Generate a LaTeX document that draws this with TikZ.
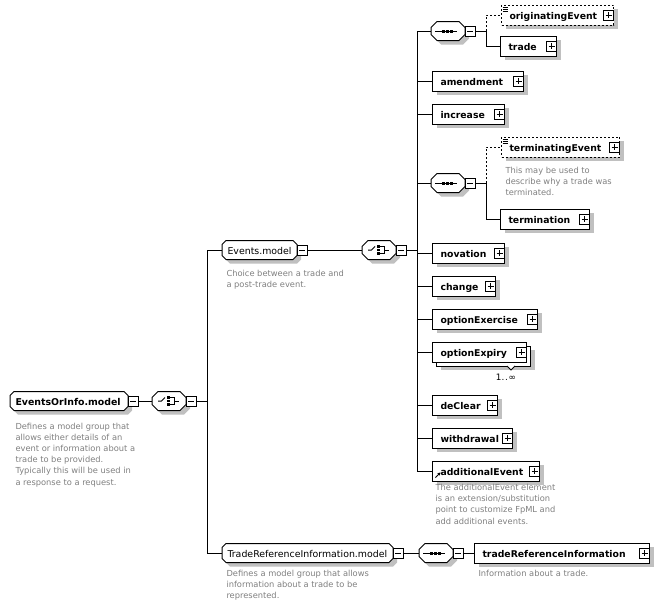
\documentclass[tikz,border=0pt]{standalone}
\usepackage{fontspec}
\setmainfont{DejaVu Sans}
\usetikzlibrary{shadows,arrows.meta}
\definecolor{shadowgray}{RGB}{192,192,192}
\definecolor{descgray}{RGB}{128,128,128}
\tikzset{
  elembase/.style={draw,fill=white,anchor=west,inner xsep=8pt,inner ysep=0pt,
    minimum height=20pt,text height=8pt,text depth=0pt,align=left,
    font=\fontsize{9.3}{11}\selectfont\bfseries},
  elemshadow/.style={drop shadow={shadow xshift=4pt,shadow yshift=-4pt,fill=shadowgray,opacity=1}},
  elem/.style={elembase,elemshadow},
  optelem/.style={elem,dash pattern=on 2pt off 2pt},
  pm/.style={draw,fill=white,inner sep=0pt,minimum size=10pt,solid},
  minusbox/.style={pm,path picture={\draw ([xshift=2pt]path picture bounding box.west) -- ([xshift=-2pt]path picture bounding box.east);}},
  plusbox/.style={pm,path picture={\draw ([xshift=2pt]path picture bounding box.west) -- ([xshift=-2pt]path picture bounding box.east); \draw ([yshift=-2pt]path picture bounding box.north) -- ([yshift=2pt]path picture bounding box.south);}},
  hold/.style={anchor=west,inner sep=0pt,outer sep=0pt,minimum height=19pt},
  glabel/.style={anchor=west,inner sep=0pt,text height=8pt,text depth=0pt,font=\fontsize{9.4}{11}\selectfont},
  desc/.style={anchor=base west,inner sep=0pt,align=left,text=descgray,font=\fontsize{8.3}{11.2}\selectfont},
  optconn/.style={dash pattern=on 2pt off 2pt},
}
% octagon around a holder node: node, cut, dx, dy(down), path options
\newcommand\drawoct[5]{%
  \path[#5] ([xshift={#2+#3},yshift={-#4}]#1.north west) -- ([xshift={#3-#2},yshift={-#4}]#1.north east)
   -- ([xshift={#3},yshift={-#2-#4}]#1.north east) -- ([xshift={#3},yshift={#2-#4}]#1.south east)
   -- ([xshift={#3-#2},yshift={-#4}]#1.south east) -- ([xshift={#2+#3},yshift={-#4}]#1.south west)
   -- ([xshift={#3},yshift={#2-#4}]#1.south west) -- ([xshift={#3},yshift={-#2-#4}]#1.north west) -- cycle;}
% model group: name, left, width, cy, label options, text
\newcommand\xgrp[6]{%
  \node[hold,minimum width=#3pt] (#1) at (#2,#4) {};
  \drawoct{#1}{4pt}{4pt}{4pt}{fill=shadowgray}
  \drawoct{#1}{4pt}{0pt}{0pt}{draw,fill=white}
  \node[glabel,#5] (#1-t) at ([xshift=5pt]#1.west) {#6};
  \node[minusbox] (#1-m) at ([xshift=5pt]#1.east) {};}
% compositor: name, left, cy
\newcommand\xcomp[3]{%
  \node[hold,minimum width=34pt] (#1) at (#2,#3) {};
  \drawoct{#1}{6pt}{4pt}{4pt}{fill=shadowgray}
  \drawoct{#1}{6pt}{0pt}{0pt}{draw,fill=white}
  \node[minusbox] (#1-m) at ([xshift=5pt]#1.east) {};}
\newcommand\seqicon[1]{%
  \draw ([xshift=4pt]#1.west) -- ([xshift=26pt]#1.west);
  \foreach \dx in {11,15,19} \fill ([xshift=\dx pt,yshift=-1.5pt]#1.west) rectangle ([xshift={\dx pt+3pt},yshift=1.5pt]#1.west);}
\newcommand\choiceicon[1]{%
  \draw ([xshift=6pt]#1.west) -- ([xshift=9.5pt]#1.west) -- ([xshift=13pt,yshift=3.5pt]#1.west);
  \foreach \dy in {-3.5,0,3.5} \fill ([xshift=15pt,yshift={\dy pt-1.25pt}]#1.west) rectangle ([xshift=17.5pt,yshift={\dy pt+1.25pt}]#1.west);
  \draw ([xshift=18pt,yshift=3.5pt]#1.west) -- ([xshift=22.5pt,yshift=3.5pt]#1.west) -- ([xshift=22.5pt,yshift=-3.5pt]#1.west) -- ([xshift=18pt,yshift=-3.5pt]#1.west);
  \draw ([xshift=22.5pt]#1.west) -- ([xshift=27pt]#1.west);}
\newcommand\plusat[1]{\node[plusbox] (#1-p) at ([xshift=-5.5pt]#1.east) {};}
\newcommand\multicon[1]{%
  \foreach \dy in {2.5,4.5,6.5} \draw[line width=0.8pt] ([xshift=1.5pt,yshift=-\dy pt]#1.north west) -- ([xshift=6.5pt,yshift=-\dy pt]#1.north west);}

\begin{document}
\begin{tikzpicture}[x=1pt,y=-1pt,line width=1pt]
\fill[white] (0,0) rectangle (660,608);
\useasboundingbox (0,0) rectangle (660,608);

\coordinate (v0) at (207,0);
\coordinate (v1) at (417,0);
\coordinate (j1) at (486,31);
\coordinate (j2) at (486,183);

% model groups and compositors
\xgrp{eoi}{10}{118}{401}{font=\fontsize{9.4}{11}\selectfont\bfseries}{EventsOrInfo.model}
\xcomp{ch1}{152}{401}\choiceicon{ch1}
\xgrp{evm}{222}{75}{250}{}{Events.model}
\xcomp{ch2}{362}{250}\choiceicon{ch2}
\xgrp{trm}{222}{171}{553}{}{TradeReferenceInformation.model}
\xcomp{seq3}{419}{553}\seqicon{seq3}
\xcomp{seq1}{431}{31}\seqicon{seq1}
\xcomp{seq2}{431}{183}\seqicon{seq2}

% elements
\node[optelem,text width=96pt] (origEv) at (501,15) {originatingEvent};\plusat{origEv}\multicon{origEv}
\node[elem,text width=40pt] (trade) at (500,46) {trade};\plusat{trade}
\node[elem,text width=75pt] (amend) at (432,81) {amendment};\plusat{amend}
\node[elem,text width=56pt] (incr) at (432,114) {increase};\plusat{incr}
\node[optelem,text width=102pt] (termEv) at (501,147) {terminatingEvent};\plusat{termEv}\multicon{termEv}
\node[elem,text width=73pt] (term) at (500,219) {termination};\plusat{term}
\node[elem,text width=56pt] (nov) at (432,253) {novation};\plusat{nov}
\node[elem,text width=47pt] (chg) at (432,286) {change};\plusat{chg}
\node[elem,text width=89pt] (optEx) at (432,319) {optionExercise};\plusat{optEx}
\node[elem,text width=78pt] (optExp-b) at (436,356) {\phantom{optionExpiry}};
\node[elembase,text width=78pt] (optExp) at (432,352) {optionExpiry};\plusat{optExp}
\draw[fill=white,line width=0.8pt] (507,366) -- (511,370) -- (515,366);
\node[inner sep=0pt,font=\fontsize{8.8}{10}\selectfont] (optExp-mult) at (506,377) {1.\kern0.8pt.\kern0.8pt∞};
\node[elem,text width=49pt] (decl) at (432,405) {deClear};\plusat{decl}
\node[elem,text width=64pt] (withd) at (432,438) {withdrawal};\plusat{withd}
\node[elem,text width=91pt] (addEv) at (432,471) {additionalEvent};\plusat{addEv}
\draw[-{Stealth[length=3pt,width=3.5pt]}] ([xshift=3.5pt,yshift=4pt]addEv.south west) -- ([xshift=8.5pt,yshift=9pt]addEv.south west);
\node[elem,text width=159pt] (tri) at (474,553) {tradeReferenceInformation};\plusat{tri}

% descriptions (anchor = baseline of the last line)
\node[desc] (eoi-d) at (15,485) {Defines a model group that\\allows either details of an\\event or information about a\\trade to be provided.\\Typically this will be used in\\a response to a request.};
\node[desc] (evm-d) at (226,287.2) {Choice between a trade and\\a post-trade event.};
\node[desc] (termEv-d) at (505,195.4) {This may be used to\\describe why a trade was\\terminated.};
\node[desc] (addEv-d) at (435,524) {The additionalEvent element\\is an extension/substitution\\point to customize FpML and\\add additional events.};
\node[desc] (trm-d) at (226,598.9) {Defines a model group that allows\\information about a trade to be\\represented.};
\node[desc] (tri-d) at (478,576.5) {Information about a trade.};

% connectors
\draw (eoi-m.east) -- (ch1.west);
\draw (ch1-m.east) -- (ch1-m.east -| v0);
\draw (v0 |- evm.west) -- (v0 |- trm.west);
\draw (v0 |- evm.west) -- (evm.west);
\draw (v0 |- trm.west) -- (trm.west);
\draw (evm-m.east) -- (ch2.west);
\draw (trm-m.east) -- (seq3.west);
\draw (seq3-m.east) -- (tri.west);
\draw (ch2-m.east) -- (ch2-m.east -| v1);
\draw (v1 |- seq1.west) -- (v1 |- addEv.west);
\foreach \n in {seq1,amend,incr,seq2,nov,chg,optEx,optExp,decl,withd,addEv}
  \draw (v1 |- \n.west) -- (\n.west);
\draw (seq1-m.east) -- (j1);
\draw[optconn] (j1) |- (origEv.west);
\draw (j1) |- (trade.west);
\draw (seq2-m.east) -- (j2);
\draw[optconn] (j2) |- (termEv.west);
\draw (j2) |- (term.west);
\end{tikzpicture}
\end{document}
